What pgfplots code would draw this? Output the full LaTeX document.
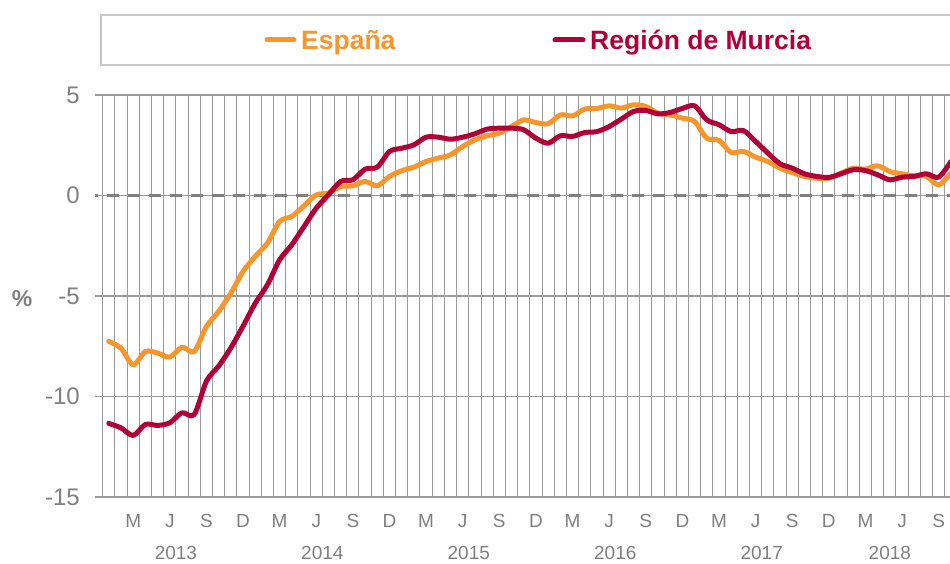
\documentclass[border=0pt]{standalone}
\usepackage{pgfplots}
\pgfplotsset{compat=1.18}
\usepackage{fontspec}
\setmainfont{Liberation Sans}
\definecolor{esp}{RGB}{247,150,44}
\definecolor{mur}{RGB}{177,0,56}
\definecolor{txtgray}{RGB}{128,128,128}
\definecolor{gridgray}{RGB}{155,155,155}
\definecolor{boxgray}{RGB}{200,200,200}

\pgfplotstableread{
k v
1 -7.26
2 -7.6
3 -8.42
4 -7.76
5 -7.84
6 -8.04
7 -7.55
8 -7.76
9 -6.52
10 -5.77
11 -4.86
12 -3.78
13 -3.03
14 -2.37
15 -1.29
16 -1.04
17 -0.51
18 0.03
19 0.12
20 0.45
21 0.48
22 0.70
23 0.48
24 0.95
25 1.23
26 1.41
27 1.69
28 1.86
29 2.02
30 2.44
31 2.77
32 2.97
33 3.1
34 3.43
35 3.76
36 3.63
37 3.57
38 4.01
39 3.96
40 4.30
41 4.33
42 4.46
43 4.35
44 4.51
45 4.43
46 4.10
47 4.01
48 3.85
49 3.68
50 2.85
51 2.74
52 2.14
53 2.19
54 1.91
55 1.69
56 1.36
57 1.14
58 0.95
59 0.86
60 0.86
61 1.11
62 1.36
63 1.31
64 1.48
65 1.19
66 1.08
67 0.98
68 0.95
69 0.53
70 1.11
}\espana

\pgfplotstableread{
k v
1 -11.34
2 -11.56
3 -11.94
4 -11.39
5 -11.44
6 -11.31
7 -10.81
8 -10.9
9 -9.24
10 -8.49
11 -7.58
12 -6.50
13 -5.36
14 -4.44
15 -3.2
16 -2.45
17 -1.54
18 -0.63
19 0.03
20 0.70
21 0.78
22 1.31
23 1.41
24 2.19
25 2.35
26 2.52
27 2.90
28 2.90
29 2.80
30 2.90
31 3.07
32 3.30
33 3.35
34 3.35
35 3.27
36 2.85
37 2.60
38 2.97
39 2.94
40 3.13
41 3.18
42 3.43
43 3.80
44 4.18
45 4.23
46 4.06
47 4.13
48 4.33
49 4.46
50 3.76
51 3.52
52 3.18
53 3.23
54 2.69
55 2.11
56 1.58
57 1.36
58 1.08
59 0.95
60 0.90
61 1.08
62 1.28
63 1.24
64 1.03
65 0.78
66 0.91
67 0.95
68 1.08
69 0.91
70 1.69
}\murcia

\begin{document}
\begin{tikzpicture}[x=1pt,y=1pt]
\begin{axis}[
  at={(95pt,67pt)}, anchor=south west,
  scale only axis, width=855pt, height=402pt,
  xmin=-0.13, xmax=69.93, ymin=-15, ymax=5,
  axis x line*=bottom, axis y line*=left,
  x axis line style={draw=gridgray, line width=1.5pt, -},
  y axis line style={draw=none},
  xtick={0.5,1.5,...,69.6}, xticklabels={},
  major tick length=0pt,
  xmajorgrids, ymajorgrids,
  major x grid style={draw=gridgray, line width=1pt},
  major y grid style={draw=gridgray, line width=1.2pt},
  ytick={-15,-10,-5,0,5},
  yticklabel style={font=\fontsize{24}{28}\selectfont, text=txtgray, inner sep=0pt, xshift=-15pt},
  /pgf/number format/assume math mode=true,
  extra x ticks={3,6,...,69},
  extra x tick labels={M,J,S,D,M,J,S,D,M,J,S,D,M,J,S,D,M,J,S,D,M,J,S},
  extra x tick style={grid=none, major tick length=0pt,
    xticklabel style={font=\fontsize{19}{22}\selectfont, text=txtgray, anchor=base, yshift=-31pt}},
  clip=true,
]
\addplot[forget plot, draw=txtgray, line width=3.4pt, dash pattern=on 12.7pt off 8.3pt, dash phase=9.3pt] coordinates {(-0.13,0) (69.93,0)};
\addplot[esp, line width=5pt, smooth, tension=0.5, line join=round, line cap=round] table[x=k,y=v] {\espana};
\addplot[mur, line width=5pt, smooth, tension=0.5, line join=round, line cap=round] table[x=k,y=v] {\murcia};
\coordinate (y13) at (axis cs:6.5,-15);
\coordinate (y14) at (axis cs:18.5,-15);
\coordinate (y15) at (axis cs:30.5,-15);
\coordinate (y16) at (axis cs:42.5,-15);
\coordinate (y17) at (axis cs:54.5,-15);
\coordinate (y18) at (axis cs:65,-15);
\end{axis}
\foreach \c/\t in {y13/2013,y14/2014,y15/2015,y16/2016,y17/2017,y18/2018}{
  \node[anchor=base, inner sep=0pt, text=txtgray, font=\fontsize{19}{22}\selectfont] at ([yshift=-63pt]\c) {\t};
}
\node[text=txtgray, font=\bfseries\fontsize{23}{27}\selectfont, inner sep=0pt] at (22,265) {\%};
% legend
\draw[boxgray, line width=1.5pt] (101,499) rectangle (968,549);
\draw[esp, line width=5pt, line cap=round] (267,524) -- (294,524);
\node[anchor=base west, inner sep=0pt, text=esp, font=\bfseries\fontsize{26.5}{30}\selectfont] at (301,514) {España};
\draw[mur, line width=5pt, line cap=round] (555,524) -- (583,524);
\node[anchor=base west, inner sep=0pt, text=mur, font=\bfseries\fontsize{26.5}{30}\selectfont] at (590,514) {Región de Murcia};
\pgfresetboundingbox
\path[use as bounding box] (0,0) rectangle (950,564);
\end{tikzpicture}
\end{document}
